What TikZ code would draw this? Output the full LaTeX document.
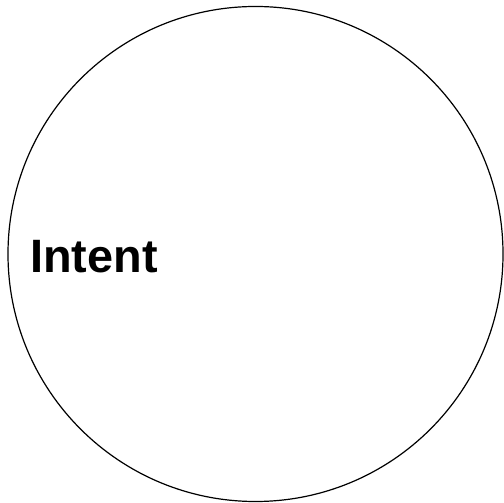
\documentclass[tikz,border=0pt]{standalone}
\usepackage{fontspec}
\setmainfont{Liberation Sans}
\begin{document}
\begin{tikzpicture}[x=1bp, y=1bp,
        ring/.style={draw=black, line width=1.2bp, circle, minimum size=495bp, inner sep=0pt},
        tag/.style={font=\fontsize{47}{54}\selectfont\bfseries, inner sep=0pt, anchor=base west}]
        \useasboundingbox (0,0) rectangle (504,503);
        \node[ring] (intentcircle) at (255.5,249) {};
        \node[tag] (intentlabel) at (30,230) {Intent};
        \end{tikzpicture}
\end{document}
